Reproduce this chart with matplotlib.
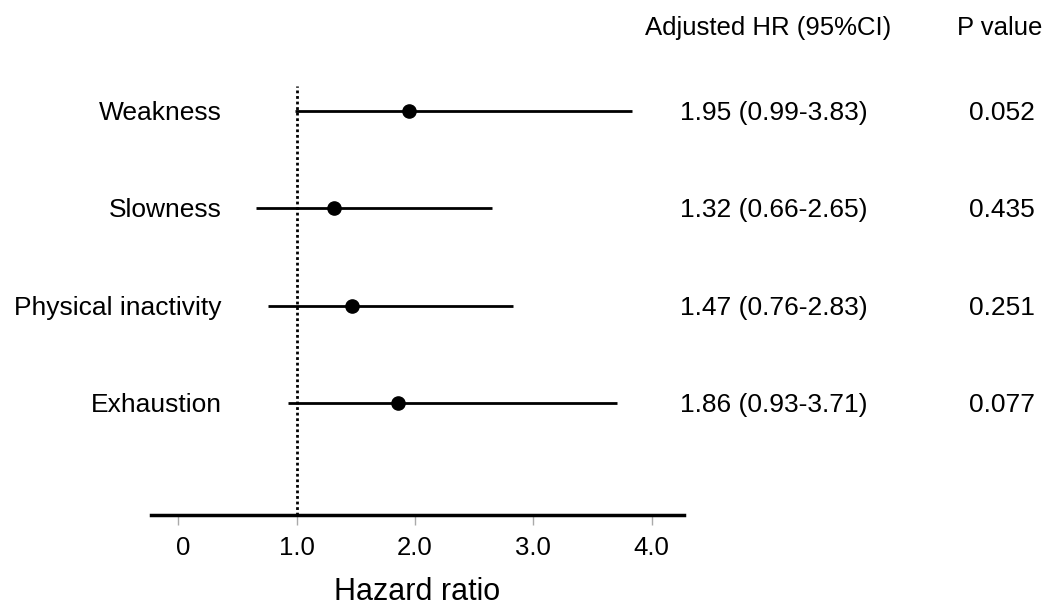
import matplotlib
matplotlib.use("Agg")
import matplotlib.pyplot as plt
import matplotlib.transforms as mtransforms

plt.rcParams['font.family'] = ['Liberation Sans', 'DejaVu Sans']

labels = ["Weakness", "Slowness", "Physical inactivity", "Exhaustion"]
hr = [1.95, 1.32, 1.47, 1.86]
lo = [0.99, 0.66, 0.76, 0.93]
hi = [3.83, 2.65, 2.83, 3.71]
hr_text = ["1.95 (0.99-3.83)", "1.32 (0.66-2.65)", "1.47 (0.76-2.83)", "1.86 (0.93-3.71)"]
p_text = ["0.052", "0.435", "0.251", "0.077"]
xticks = [0, 1, 2, 3, 4]
xticklabels = ["0", "1.0", "2.0", "3.0", "4.0"]

W, H = 1051, 608
fig = plt.figure(figsize=(W / 100, H / 100), dpi=100)
ax_left, ax_right, ax_top, ax_bot = 150.7, 683.6, 86, 515
ax = fig.add_axes([ax_left / W, (H - ax_bot) / H, (ax_right - ax_left) / W, (ax_bot - ax_top) / H])

n = len(labels)
ys = list(range(n, 0, -1))

ax.set_xlim(-0.232, 4.27)
ax.set_ylim(-0.15, 4.257)

ax.axvline(1.0, color='black', linestyle=(0, (1, 1)), linewidth=2, zorder=1)
for y, l, h, m in zip(ys, lo, hi, hr):
    ax.plot([l, h], [y, y], color='black', linewidth=2, solid_capstyle='butt', zorder=2)
    ax.plot([m], [y], 'o', color='black', markersize=9.5, zorder=3)

for s in ['top', 'right', 'left']:
    ax.spines[s].set_visible(False)
ax.spines['bottom'].set_linewidth(2.5)
ax.set_yticks([])
ax.set_xticks(xticks)
ax.set_xticklabels(xticklabels, fontsize=18.5)
ax.tick_params(axis='x', length=7, width=1, color='#aaaaaa', pad=8)
# the "0" label sits slightly right of its tick in the reference
zero_lab = ax.get_xticklabels()[0]
zero_lab.set_transform(zero_lab.get_transform() + mtransforms.ScaledTranslation(5 / 100, 0, fig.dpi_scale_trans))
ax.set_xlabel("Hazard ratio", fontsize=22, labelpad=12)

fs = 19
off = mtransforms.ScaledTranslation(0, -2 / 100, fig.dpi_scale_trans)
trans_lab = mtransforms.blended_transform_factory(fig.transFigure, ax.transData) + off
for y, lab, t, p in zip(ys, labels, hr_text, p_text):
    ax.text(222 / W, y, lab, transform=trans_lab, ha='right', va='center', fontsize=fs, clip_on=False)
    ax.text(774 / W, y, t, transform=trans_lab, ha='center', va='center', fontsize=fs, clip_on=False)
    ax.text(1002 / W, y, p, transform=trans_lab, ha='center', va='center', fontsize=fs, clip_on=False)

fig.text(768.5 / W, 1 - 28 / H, "Adjusted HR (95%CI)", ha='center', va='center', fontsize=18.5)
fig.text(1000 / W, 1 - 28 / H, "P value", ha='center', va='center', fontsize=18.5)

fig.savefig("out.png", dpi=100)
